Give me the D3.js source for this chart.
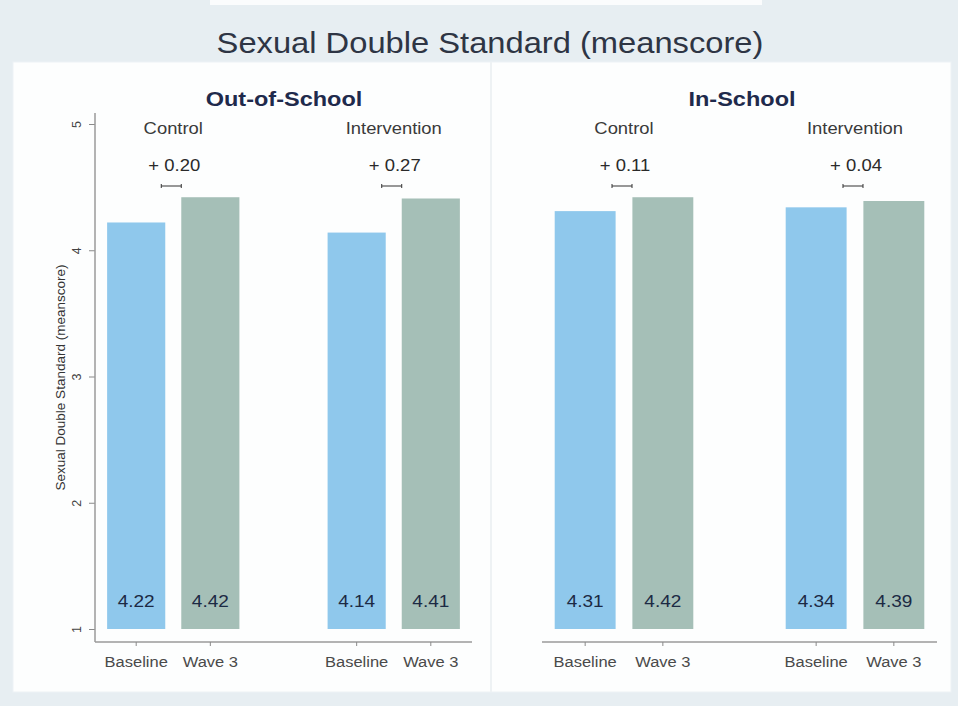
<!DOCTYPE html>
<html>
<head>
<meta charset="utf-8">
<script src="https://cdn.jsdelivr.net/npm/d3@7"></script>
<style>
  html, body { margin: 0; padding: 0; background: #e7eef2; }
  svg { display: block; font-family: "Liberation Sans", Arial, Helvetica, sans-serif; }
</style>
</head>
<body>
<svg id="chart" width="958" height="706"></svg>
<script>
// Mean Sexual Double Standard score by setting, arm and wave
const panels = ["Out-of-School", "In-School"];
const arms = ["Control", "Intervention"];
const waves = ["Baseline", "Wave 3"];
const outOfSchool = [[4.22, 4.42], [4.14, 4.41]];
const inSchool = [[4.31, 4.42], [4.34, 4.39]];
const changes = [["+ 0.20", "+ 0.27"], ["+ 0.11", "+ 0.04"]];
const yTicks = [1, 2, 3, 4, 5];
const yTitle = "Sexual Double Standard (meanscore)";
const mainTitle = "Sexual Double Standard (meanscore)";

const panelValues = [outOfSchool, inSchool];
const waveColor = d3.scaleOrdinal().domain(waves).range(["#8fc8ec", "#a5bfb7"]);

const svg = d3.select("#chart");

// text with a slight horizontal stretch
function label(parent, x, y, str, size, sx, fill, weight) {
  return parent.append("text")
    .attr("transform", `translate(${x},${y}) scale(${sx},1)`)
    .attr("text-anchor", "middle")
    .attr("font-size", size)
    .attr("font-weight", weight || "normal")
    .attr("fill", fill)
    .text(str);
}

// backdrop
svg.append("rect").attr("x", 0).attr("y", 0).attr("width", 958).attr("height", 706).attr("fill", "#e7eef2");
svg.append("rect").attr("x", 210).attr("y", 0).attr("width", 552).attr("height", 5).attr("fill", "#fbfcfd");
svg.append("rect").attr("x", 13).attr("y", 62).attr("width", 938).attr("height", 630)
  .attr("fill", "#fdfefe").attr("stroke", "#edf2f5").attr("stroke-width", 1);
svg.append("line").attr("x1", 491).attr("x2", 491).attr("y1", 62).attr("y2", 692)
  .attr("stroke", "#eef2f4").attr("stroke-width", 2);

label(svg, 490, 53, mainTitle, 30, 1.09, "#2e3544");

const y = d3.scaleLinear().domain([1, 5]).range([629, 124]);
const axisY = 642;

const panelRanges = [[95, 472], [542, 937]];
const panelCenters = [284, 742];

panels.forEach((pname, pi) => {
  const [x0, x1] = panelRanges[pi];
  const g = svg.append("g");

  const xArm = d3.scalePoint().domain(arms).range([x0, x1]).padding(0.355);
  const step = xArm.step();
  const xWave = d3.scaleBand().domain(waves).range([-0.3 * step, 0.3 * step]).paddingInner(0.216).paddingOuter(0);

  label(g, panelCenters[pi], 106, pname, 21, 1.12, "#1f2a4c", "bold");

  // x axis
  g.append("line").attr("x1", x0).attr("x2", x1).attr("y1", axisY).attr("y2", axisY)
    .attr("stroke", "#9a9a9a").attr("stroke-width", 1.5);

  // y axis only on first panel
  if (pi === 0) {
    const yAxis = d3.axisLeft(y).tickValues(yTicks).tickSize(6).tickPadding(10).tickFormat(d3.format("d"));
    const ya = g.append("g").attr("transform", `translate(${x0},0)`).call(yAxis);
    ya.select(".domain").remove();
    ya.selectAll(".tick line").attr("stroke", "#8a8a8a");
    ya.selectAll(".tick text").attr("font-size", 12.5).attr("fill", "#444")
      .attr("transform", "rotate(-90)").attr("text-anchor", "middle")
      .attr("x", 0).attr("dy", 0)
      .attr("y", -14);
    g.append("line").attr("x1", x0).attr("x2", x0).attr("y1", 113).attr("y2", axisY)
      .attr("stroke", "#9a9a9a").attr("stroke-width", 1.5);
    g.append("text").attr("transform", `translate(65,${(y(1) + y(5)) / 2 + 1}) rotate(-90)`)
      .attr("text-anchor", "middle").attr("font-size", 13.5).attr("fill", "#333").text(yTitle);
  }

  arms.forEach((arm, ai) => {
    const cx = xArm(arm);
    label(g, cx, 134, arm, 16, 1.15, "#3a3a3a");
    label(g, cx + 1, 171, changes[pi][ai], 16.5, 1.12, "#2a2a2a");
    // small bracket between the two bars
    const bx = cx - 2;
    g.append("path").attr("d", `M${bx - 10},184 V188 M${bx - 10},186 H${bx + 10} M${bx + 10},184 V188`)
      .attr("stroke", "#333").attr("stroke-width", 1).attr("fill", "none");

    waves.forEach((w, wi) => {
      const v = panelValues[pi][ai][wi];
      const bxl = cx + xWave(w);
      const tx = bxl + xWave.bandwidth() / 2;
      g.append("rect").attr("x", bxl).attr("y", y(v)).attr("width", xWave.bandwidth())
        .attr("height", y(1) - y(v)).attr("fill", waveColor(w));
      label(g, tx, 607, v.toFixed(2), 17, 1.12, "#1c2a44");
      g.append("line").attr("x1", tx).attr("x2", tx).attr("y1", axisY).attr("y2", axisY + 4)
        .attr("stroke", "#8a8a8a");
      label(g, tx, 667, w, 15, 1.1, "#4a4a4a");
    });
  });
});
</script>
</body>
</html>
